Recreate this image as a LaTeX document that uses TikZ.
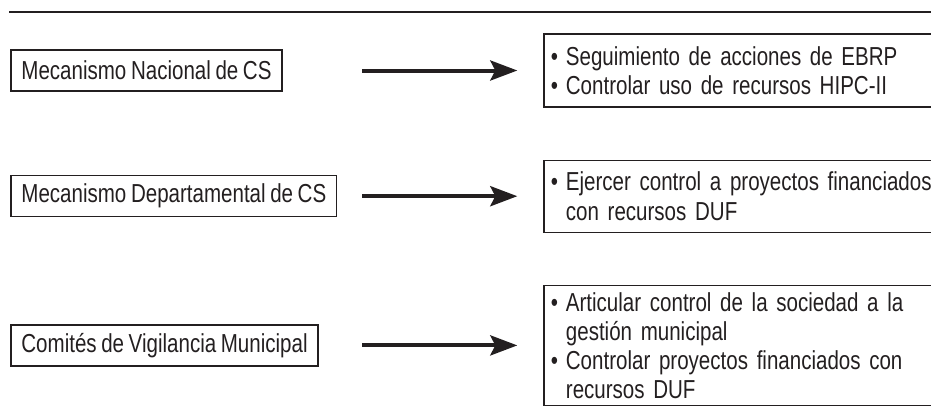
\documentclass[tikz,border=0pt]{standalone}
\usepackage{fontspec}
\setmainfont{Liberation Sans}[FakeStretch=0.79]
\usetikzlibrary{arrows.meta}

\definecolor{tinta}{RGB}{35,31,32}
\newcommand{\letra}{\fontsize{13}{14.5}\selectfont\spaceskip 2.3pt\relax}
\newcommand{\vineta}{\makebox[7.5pt][l]{•}}
\newcommand{\sangria}{\hspace*{7.5pt}}

\tikzstyle{mecanismo}=[rectangle,
    draw=tinta,
    line width=0.6pt,
    minimum height=20.5pt,
    inner xsep=5.2pt,
    inner ysep=0pt]
\tikzstyle{funcion}=[rectangle,
    draw=tinta,
    line width=0.6pt,
    text width=205pt,
    align=left,
    inner xsep=3.5pt,
    inner ysep=0pt]
\tikzstyle{flecha}=[line width=2pt,
    draw=tinta,
    -{Stealth[length=13.5pt,width=10pt,inset=2.5pt]}]

\begin{document}
\begin{tikzpicture}[x=0.5pt, y=-0.5pt, every node/.style={text=tinta, font=\letra}]
    \useasboundingbox (0,0) rectangle (931,418);
    \clip (0,0) rectangle (931,418);
    \draw [tinta, line width=1.25pt] (9,12) -- (940,12);
    \matrix[anchor=north west, inner sep=0pt, row sep=26pt, column sep=103pt, nodes={anchor=west}] at (10,33) {
        \node (m1) [mecanismo] {Mecanismo Nacional de CS};&
        \node (f1) [funcion, minimum height=36.5pt] {\vineta Seguimiento de acciones de EBRP\\
            \vineta Controlar uso de recursos HIPC-II};\\
        \node (m2) [mecanismo] {Mecanismo Departamental de CS};&
        \node (f2) [funcion, minimum height=36pt] {\vineta Ejercer control a proyectos financiados\\
            \sangria con recursos DUF};\\
        \node (m3) [mecanismo] {Comités de Vigilancia Municipal};&
        \node (f3) [funcion, minimum height=60pt] {\vineta Articular control de la sociedad a la\\
            \sangria gestión municipal\\
            \vineta Controlar proyectos financiados con\\
            \sangria recursos DUF};\\
    };
    \draw [flecha, shorten <=12.5pt, shorten >=13pt] (m1 -| m2.east) -- (m1 -| f1.west);
    \draw [flecha, shorten <=12.5pt, shorten >=13pt] (m2.east) -- (m2 -| f2.west);
    \draw [flecha, shorten <=12.5pt, shorten >=13pt] (m3 -| m2.east) -- (m3 -| f3.west);
\end{tikzpicture}
\end{document}
